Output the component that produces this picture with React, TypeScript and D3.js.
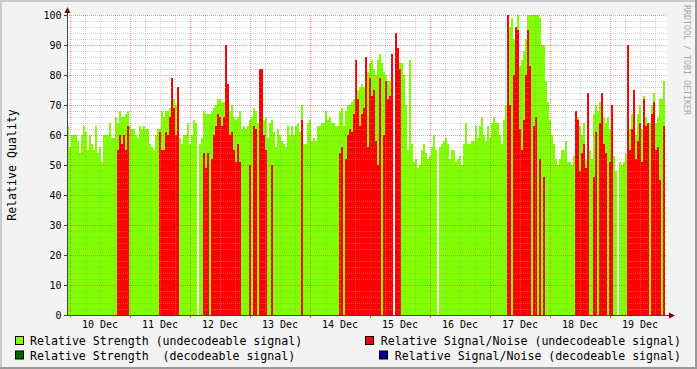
import React from "react";
import * as d3 from "d3";

const _ = null;

// sample start time and step (minutes)
const START = Date.UTC(2010, 11, 9, 22, 48);
const STEP_MIN = 48;

// Relative Strength (undecodeable signal)
const strength1 = [
  63,56,60,60,60,58,54,60,63,61,
  55,60,57,55,63,54,56,51,60,60,
  60,64,59,59,66,64,68,66,66,67,
  68,63,62,62,60,59,63,62,63,62,
  62,57,56,55,60,62,62,68,66,68,
];
const strength2 = [
  68,69,70,72,70,70,59,57,60,60,
  64,57,60,65,64,_,57,59,68,67,
  67,67,68,69,70,72,72,71,71,70,
  71,68,70,66,65,66,68,62,63,62,
  63,65,66,69,68,64,70,69,65,66,
];
const strength3 = [
  59,64,65,61,56,62,60,58,57,56,
  63,60,63,60,63,64,61,70,57,57,
  64,65,58,59,58,63,63,64,64,68,
  65,66,64,64,63,63,68,69,63,68,
  70,70,71,72,74,75,76,77,76,76,
];
const strength4 = [
  81,84,85,82,80,85,87,84,81,80,
  78,78,80,_,78,80,84,84,80,70,
  55,85,57,51,52,49,50,55,57,54,
  52,53,56,60,55,_,56,57,58,59,
  57,52,55,55,51,52,53,50,57,64,
];
const strength5 = [
  57,57,58,58,63,59,63,66,60,58,
  63,59,64,66,64,64,60,57,65,70,
  100,96,99,92,88,100,83,85,88,92,
  100,100,100,100,100,100,99,90,90,78,
  71,65,60,57,52,50,52,55,55,58,
];
const strength6 = [
  51,51,50,53,63,66,63,60,64,52,
  52,55,52,67,70,68,71,69,66,64,
  66,62,62,53,48,_,51,50,51,54,
  63,62,67,65,60,67,70,62,73,66,
  62,64,70,74,64,66,72,72,78,
];

// Relative Signal/Noise (undecodeable signal)
const snr1 = [
  _,_,_,_,_,_,_,_,_,_,
  _,_,_,_,_,_,_,_,_,_,
  _,_,_,_,_,55,60,57,60,55,
  63,_,_,_,_,_,_,_,_,_,
  _,_,_,_,_,_,61,55,55,61,
];
const snr2 = [
  60,66,79,69,60,76,_,_,_,_,
  _,_,_,_,_,_,_,_,54,49,
  54,_,52,60,63,67,66,63,66,90,
  77,60,61,55,51,57,51,_,_,_,
  _,50,_,63,62,_,82,82,60,55,
];
const snr3 = [
  _,_,50,_,_,_,_,_,_,_,
  _,_,_,_,_,_,_,65,_,_,
  _,_,_,_,_,_,_,_,_,_,
  _,_,_,_,_,_,54,56,_,52,
  60,62,61,67,85,72,63,67,69,86,
];
const snr4 = [
  56,79,73,75,58,50,79,_,60,78,
  72,73,87,_,94,89,82,_,_,_,
  _,_,_,_,_,_,_,_,_,_,
  _,_,_,_,_,_,_,_,_,_,
  _,_,_,_,_,_,_,_,_,_,
];
const snr5 = [
  _,_,_,_,_,_,_,_,_,_,
  _,_,_,_,_,_,_,_,_,_,
  100,70,_,80,96,95,62,55,65,80,
  95,83,_,63,66,_,52,_,46,_,
  _,_,_,_,_,_,_,_,_,_,
];
const snr6 = [
  _,_,_,_,68,65,48,54,57,49,
  74,_,_,46,61,_,64,74,57,54,
  _,51,70,_,_,_,_,_,_,_,
  90,55,62,75,52,58,64,51,72,63,
  64,_,67,71,55,56,45,_,63,
];

const strength = [...strength1, ...strength2, ...strength3, ...strength4, ...strength5, ...strength6];
const snr = [...snr1, ...snr2, ...snr3, ...snr4, ...snr5, ...snr6];
if (strength.length !== snr.length) {
  throw new Error(`length mismatch ${strength.length} vs ${snr.length}`);
}

const yMajor = [0, 10, 20, 30, 40, 50, 60, 70, 80, 90, 100];
const yMinor = d3.range(0, 101, 2);

const legendLeft = [
  { label: "Relative Strength (undecodeable signal)", color: "#80ff00" },
  { label: "Relative Strength  (decodeable signal)", color: "#006600" },
];
const legendRight = [
  { label: "Relative Signal/Noise (undecodeable signal)", color: "#ff0000" },
  { label: "Relative Signal/Noise (decodeable signal)", color: "#000099" },
];

const FONT = "'DejaVu Sans Mono', monospace";

export default function App() {
  const W = 697;
  const H = 369;
  const plotL = 67;
  const plotR = 667;
  const plotT = 15;
  const plotB = 315;
  const N = strength.length;
  const stepMs = STEP_MIN * 60000;
  const t0 = new Date(START);
  const t1 = new Date(START + N * stepMs);
  const x = d3.scaleUtc().domain([t0, t1]).range([67, 665]);
  const y = d3.scaleLinear().domain([0, 100]).range([plotB, plotT]);

  const minorX = d3.utcHour.every(6)!.range(t0, t1).filter((d) => d.getUTCHours() !== 0);
  const majorX = d3.utcDay.range(t0, t1);
  const labelDays = d3.utcDay.range(t0, t1).map((d) => new Date(d.getTime() + 12 * 3600000)).filter((d) => d < t1);
  const fmt = d3.utcFormat("%d %b");

  const tAt = (i: number) => new Date(START + i * stepMs);

  const charW = 7.0;

  return (
    <svg
      width={W}
      height={H}
      viewBox={`0 0 ${W} ${H}`}
      style={{ position: "fixed", left: 0, top: 0, display: "block" }}
      fontFamily={FONT}
    >
      <rect x={0} y={0} width={W} height={H} fill="#f3f3f3" />
      {/* frame */}
      <rect x={0} y={0} width={W} height={2} fill="#cbcbcb" />
      <rect x={0} y={0} width={2} height={H} fill="#cbcbcb" />
      <rect x={0} y={H - 2} width={W} height={2} fill="#999999" />
      <rect x={W - 2} y={0} width={2} height={H} fill="#999999" />

      {/* canvas */}
      <rect x={plotL} y={plotT} width={plotR - plotL} height={plotB - plotT} fill="#ffffff" />

      {/* data */}
      <g shapeRendering="crispEdges">
        {strength.map((v, i) =>
          v == null ? null : (
            <rect
              key={"g" + i}
              x={x(tAt(i))}
              y={y(v)}
              width={x(tAt(i + 1)) - x(tAt(i))}
              height={y(0) - y(v)}
              fill="#80ff00"
            />
          )
        )}
        {snr.map((v, i) =>
          v == null ? null : (
            <rect
              key={"r" + i}
              x={x(tAt(i))}
              y={y(v)}
              width={x(tAt(i + 1)) - x(tAt(i))}
              height={y(0) - y(v)}
              fill="#ff0000"
            />
          )
        )}
      </g>

      {/* grid */}
      <g shapeRendering="crispEdges" strokeDasharray="1,1" strokeWidth={1}>
        {yMinor
          .filter((v) => v % 10 !== 0)
          .map((v) => (
            <line key={"hm" + v} x1={plotL} x2={plotR} y1={y(v) + 0.5} y2={y(v) + 0.5} stroke="rgba(160,160,160,0.45)" />
          ))}
        {minorX.map((d, i) => (
          <line key={"vm" + i} x1={x(d) + 0.5} x2={x(d) + 0.5} y1={plotT} y2={plotB} stroke="rgba(160,160,160,0.45)" />
        ))}
        {yMajor
          .filter((v) => v !== 0)
          .map((v) => (
            <line key={"hM" + v} x1={plotL} x2={plotR} y1={y(v) + 0.5} y2={y(v) + 0.5} stroke="rgba(220,40,40,0.45)" />
          ))}
        {majorX.map((d, i) => (
          <line key={"vM" + i} x1={x(d) + 0.5} x2={x(d) + 0.5} y1={plotT} y2={plotB} stroke="rgba(220,40,40,0.45)" />
        ))}
      </g>

      {/* ticks */}
      <g shapeRendering="crispEdges">
        {yMajor.map((v) => (
          <line key={"yt" + v} x1={plotL - 3} x2={plotL} y1={y(v) + 0.5} y2={y(v) + 0.5} stroke="#2c4d43" />
        ))}
        {majorX.map((d, i) => (
          <line key={"xt" + i} x1={x(d) + 0.5} x2={x(d) + 0.5} y1={plotB} y2={plotB + 3} stroke="rgba(220,40,40,0.7)" />
        ))}
      </g>

      {/* axes */}
      <g shapeRendering="crispEdges">
        <line x1={plotL + 0.5} x2={plotL + 0.5} y1={plotB + 1} y2={12} stroke="#2c4d43" />
        <line x1={plotL} x2={670} y1={plotB + 0.5} y2={plotB + 0.5} stroke="#2c4d43" />
      </g>
      <polygon points={`${plotL + 0.5},7 ${plotL - 2.5},13 ${plotL + 3.5},13`} fill="#7f0000" />
      <polygon points={`675,${plotB + 0.5} 669,${plotB - 2.5} 669,${plotB + 3.5}`} fill="#7f0000" />

      {/* y labels */}
      {yMajor.map((v) => (
        <text key={"yl" + v} x={61.5} y={y(v) + 4} textAnchor="end" fontSize={10} fill="#000">
          {v}
        </text>
      ))}
      {/* x labels */}
      {labelDays.map((d, i) => (
        <text key={"xl" + i} x={x(d)} y={328} textAnchor="middle" fontSize={10} fill="#000">
          {fmt(d)}
        </text>
      ))}

      {/* y title */}
      <text transform="translate(16,165) rotate(-90)" textAnchor="middle" fontSize={11.6} fill="#000">
        Relative Quality
      </text>

      {/* watermark */}
      <text transform="translate(684,5) rotate(90)" fontSize={8.3} fill="#a8a8a8">
        RRDTOOL / TOBI OETIKER
      </text>

      {/* legend */}
      {legendLeft.map((l, i) => (
        <g key={"ll" + i}>
          <rect x={15.5} y={336.5 + i * 14.5} width={8} height={8} fill={l.color} stroke="#000" />
          <text x={30} y={345 + i * 14.5} fontSize={11.6} fill="#000" style={{ whiteSpace: "pre" }}>
            {l.label}
          </text>
        </g>
      ))}
      {legendRight.map((l, i) => {
        const start = 681 - l.label.length * charW;
        return (
          <g key={"lr" + i}>
            <rect x={Math.round(start - 15) + 0.5} y={336.5 + i * 14.5} width={8} height={8} fill={l.color} stroke="#000" />
            <text x={681} y={345 + i * 14.5} textAnchor="end" fontSize={11.6} fill="#000" style={{ whiteSpace: "pre" }}>
              {l.label}
            </text>
          </g>
        );
      })}
    </svg>
  );
}
